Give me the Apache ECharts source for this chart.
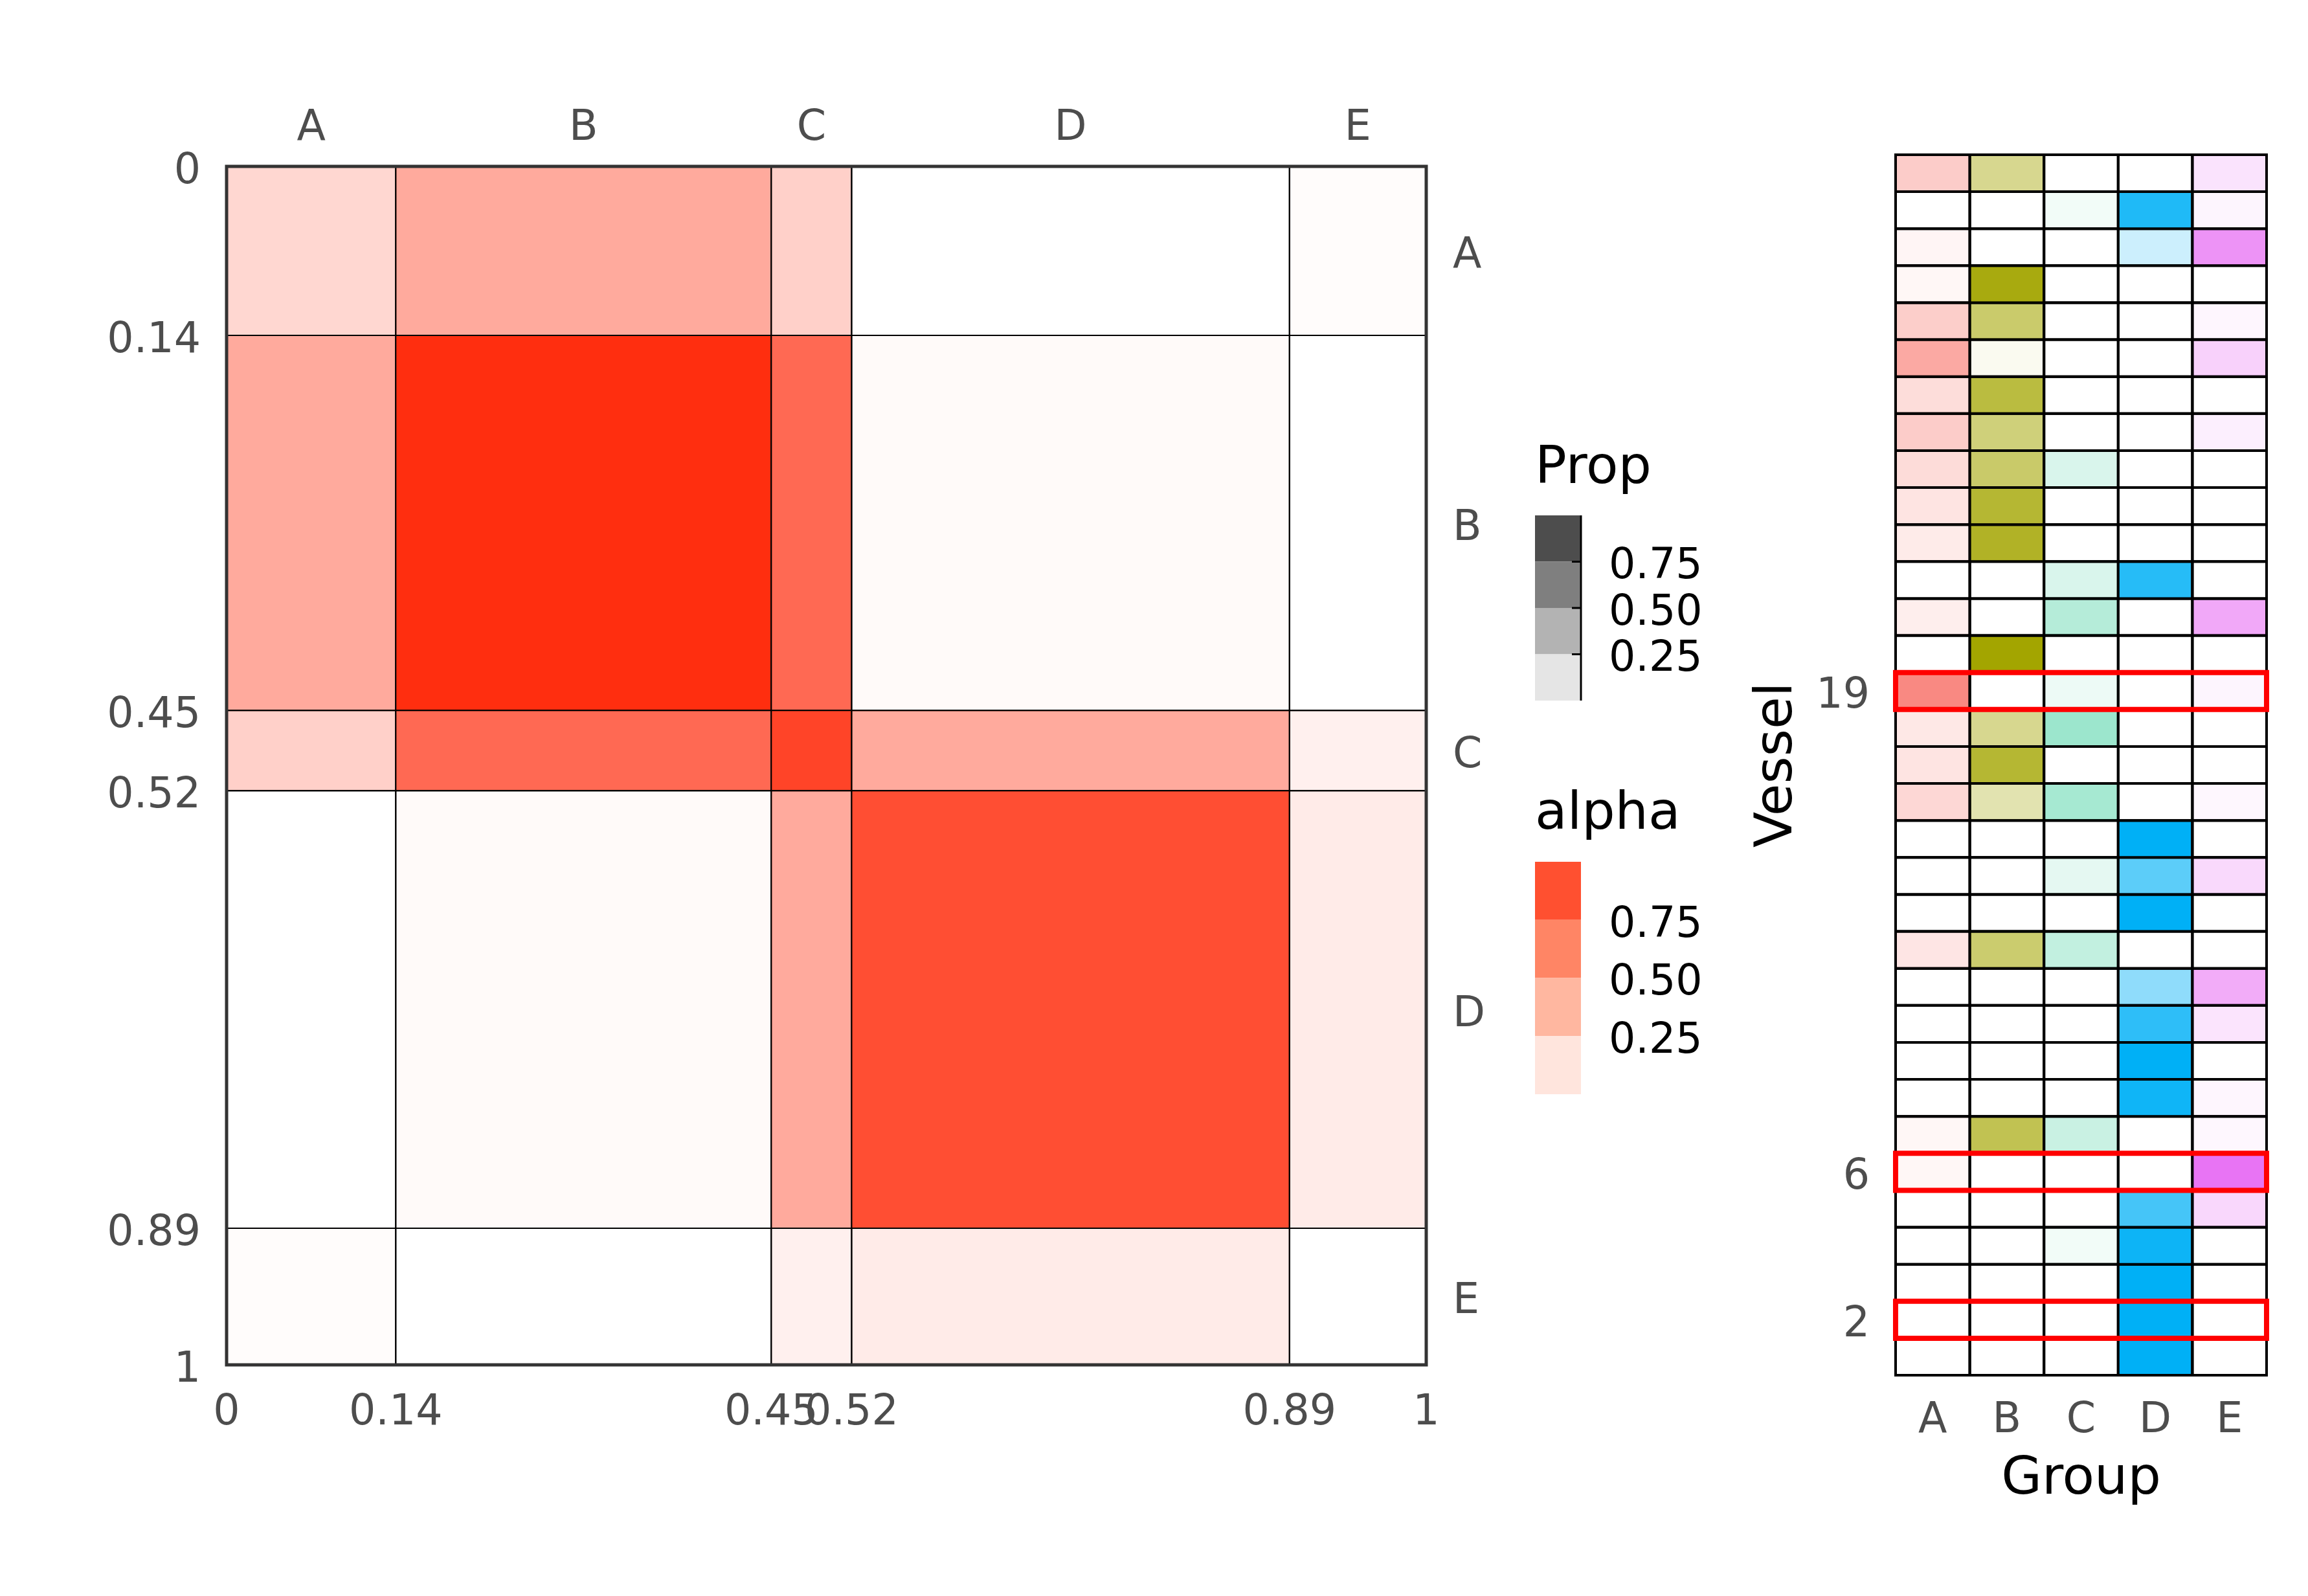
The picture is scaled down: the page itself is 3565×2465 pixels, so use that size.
<!DOCTYPE html>
<html><head><meta charset="utf-8">
<script src="https://cdn.jsdelivr.net/npm/echarts@6/dist/echarts.min.js"></script>
<style>html,body{margin:0;padding:0;background:#fff}#c{width:3565px;height:2465px}</style>
</head><body><div id="c"></div>
<script>
// ---------- data ----------
const groups = ['A', 'B', 'C', 'D', 'E'];
const groupProps = [0.141, 0.313, 0.067, 0.365, 0.114];
// block connection "alpha" (row group x column group)
const alphaA = [0.19, 0.40, 0.22, 0.00, 0.015];
const alphaB = [0.40, 0.98, 0.70, 0.025, 0.00];
const alphaC = [0.22, 0.70, 0.88, 0.40, 0.07];
const alphaD = [0.00, 0.025, 0.40, 0.83, 0.094];
const alphaE = [0.015, 0.00, 0.07, 0.094, 0.00];
const blockAlpha = [alphaA, alphaB, alphaC, alphaD, alphaE];

// vessel membership proportions, vessel 1 .. 33
const vessels = Array.from({length: 33}, (_, i) => String(i + 1));
const propA = [0,0,0,0,0,0.06,0.06,0,0,0,0,0.19,0,0,0,0.29,0.20,0.17,0.86,0,0.12,0,0.15,0.20,0.26,0.37,0.25,0.63,0.36,0.06,0.07,0,0.37];
const propB = [0,0,0,0,0,0,0.68,0,0,0,0,0.57,0,0,0,0.31,0.80,0.44,0,1,0,0,0.85,0.80,0.59,0.52,0.75,0.06,0.58,0.94,0,0,0.44];
const propC = [0,0,0,0.05,0,0,0.21,0,0,0,0,0.24,0,0.10,0,0.35,0,0.39,0.07,0,0.29,0.15,0,0,0.15,0,0,0,0,0,0,0.05,0];
const propD = [1,1,1,0.95,0.73,0,0,0.94,1,0.82,0.44,0,1,0.64,1,0,0,0,0,0,0,0.85,0,0,0,0,0,0,0,0,0.20,0.88,0];
const propE = [0,0,0,0,0.27,0.94,0.05,0.06,0,0.18,0.56,0,0,0.26,0,0.05,0,0,0.07,0,0.59,0,0,0,0,0.11,0,0.31,0.06,0,0.73,0.07,0.19];
const vesselProps = [propA, propB, propC, propD, propE];
const highlightVessels = ['2', '6', '19'];

const legendLevels = ['0.75', '0.50', '0.25'];

// ---------- styles ----------
const FONT = 'DejaVu Sans';
const groupColors = [[248,118,109],[163,165,0],[0,191,125],[0,176,246],[231,107,243]];
const blockRGB = [255, 42, 10];
const propLegendColors = ['#4D4D4D', '#7F7F7F', '#B3B3B3', '#E5E5E5'];
const alphaLegendColors = ['#FF5030', '#FF8565', '#FFB7A0', '#FFE5DD'];
const DY = 9; // text baseline nudge

// ---------- derived ----------
const r2 = v => Math.round(v * 100) / 100;
const r3 = v => Math.round(v * 1000) / 1000;
const breaks = [0];
groupProps.forEach(p => breaks.push(r3(breaks[breaks.length - 1] + p)));
const mids = groups.map((g, i) => (breaks[i] + breaks[i + 1]) / 2);
const letterAt = v => { const i = mids.findIndex(m => Math.abs(m - v) < 1e-6); return i >= 0 ? groups[i] : ''; };

const blockData = [];
for (let i = 0; i < 5; i++) for (let j = 0; j < 5; j++)
  blockData.push([breaks[j], breaks[j + 1], breaks[i], breaks[i + 1], blockAlpha[i][j]]);

const cellData = [];
for (let j = 0; j < 5; j++) for (let v = 0; v < vessels.length; v++)
  cellData.push([j, v, vesselProps[j][v]]);
const boxData = highlightVessels.map(v => [0, vessels.indexOf(v)]);

const tickLabel = {fontFamily: FONT, fontSize: 65, color: '#4D4D4D'};
const midRich = {rich: {p: {fontFamily: FONT, fontSize: 65, color: '#4D4D4D', padding: [2 * DY, 0, 0, 0]}}};
const wrapP = s => s === '' ? '' : `{p|${s}}`;

const chart = echarts.init(document.getElementById('c'), null, {renderer: 'canvas', devicePixelRatio: 1});

// legend graphics
const gfx = [];
const LX = 2371, BW = 71, TDY = 4;
gfx.push({type: 'text', left: LX, top: 680 + TDY, style: {text: 'Prop', font: `81px "${FONT}"`, fill: '#000'}});
const pTop = 796, pH = 71.5;
propLegendColors.forEach((c, i) => gfx.push({type: 'rect', shape: {x: LX, y: pTop + i * pH, width: BW, height: pH}, style: {fill: c}}));
gfx.push({type: 'line', shape: {x1: LX + BW, y1: pTop, x2: LX + BW, y2: pTop + 4 * pH}, style: {stroke: '#000', lineWidth: 3}});
legendLevels.forEach((t, i) => {
  const y = pTop + (i + 1) * pH;
  gfx.push({type: 'line', shape: {x1: LX + BW - 14, y1: y, x2: LX + BW, y2: y}, style: {stroke: '#000', lineWidth: 3}});
  gfx.push({type: 'text', x: 2485, y: y + DY, style: {text: t, font: `65px "${FONT}"`, fill: '#000', verticalAlign: 'middle'}});
});
gfx.push({type: 'text', left: LX, top: 1214 + TDY, style: {text: 'alpha', font: `81px "${FONT}"`, fill: '#000'}});
const aTop = 1331, aH = 89.75;
alphaLegendColors.forEach((c, i) => gfx.push({type: 'rect', shape: {x: LX, y: aTop + i * aH, width: BW, height: aH}, style: {fill: c}}));
legendLevels.forEach((t, i) => {
  const y = aTop + (i + 1) * aH;
  gfx.push({type: 'text', x: 2485, y: y + DY, style: {text: t, font: `65px "${FONT}"`, fill: '#000', verticalAlign: 'middle'}});
});

const option = {
  backgroundColor: '#fff',
  animation: false,
  textStyle: {fontFamily: FONT},
  grid: [
    {left: 350, top: 257, width: 1853, height: 1851, show: false},
    {left: 2928, top: 239, width: 573, height: 1885, show: false}
  ],
  xAxis: [
    {type: 'value', gridIndex: 0, min: 0, max: 1, position: 'bottom',
     axisLine: {show: false}, axisTick: {show: false}, splitLine: {show: false},
     axisLabel: Object.assign({customValues: breaks, margin: 36 + DY - 2, formatter: v => String(r2(v)), hideOverlap: false}, tickLabel)},
    {type: 'value', gridIndex: 0, min: 0, max: 1, position: 'top',
     axisLine: {show: false}, axisTick: {show: false}, splitLine: {show: false},
     axisLabel: Object.assign({customValues: mids, margin: 34 - DY, formatter: letterAt}, tickLabel)},
    {type: 'category', gridIndex: 1, data: groups, position: 'bottom',
     axisLine: {show: false}, axisTick: {show: false}, splitLine: {show: false},
     axisLabel: Object.assign({margin: 32 + DY - 2}, tickLabel),
     name: 'Group', nameLocation: 'middle', nameGap: 116 + DY - 4,
     nameTextStyle: {fontFamily: FONT, fontSize: 81, color: '#000'}}
  ],
  yAxis: [
    {type: 'value', gridIndex: 0, min: 0, max: 1, inverse: true, position: 'left',
     axisLine: {show: false}, axisTick: {show: false}, splitLine: {show: false},
     axisLabel: Object.assign({customValues: breaks, margin: 40, formatter: v => wrapP(String(r2(v)))}, tickLabel, midRich)},
    {type: 'value', gridIndex: 0, min: 0, max: 1, inverse: true, position: 'right',
     axisLine: {show: false}, axisTick: {show: false}, splitLine: {show: false},
     axisLabel: Object.assign({customValues: mids, margin: 41, formatter: v => wrapP(letterAt(v))}, tickLabel, midRich)},
    {type: 'category', gridIndex: 1, data: vessels, position: 'left',
     axisLine: {show: false}, axisTick: {show: false}, splitLine: {show: false},
     axisLabel: Object.assign({margin: 40, interval: (idx, val) => highlightVessels.includes(val), formatter: v => wrapP(v)}, tickLabel, midRich),
     name: 'Vessel', nameLocation: 'middle', nameRotate: 90, nameGap: 142,
     nameTextStyle: {fontFamily: FONT, fontSize: 81, color: '#000'}}
  ],
  graphic: gfx,
  series: [
    {type: 'custom', xAxisIndex: 0, yAxisIndex: 0, data: blockData, encode: {x: [0, 1], y: [2, 3]}, z: 2,
     renderItem: (params, api) => {
       const p0 = api.coord([api.value(0), api.value(2)]);
       const p1 = api.coord([api.value(1), api.value(3)]);
       const a = api.value(4);
       return {type: 'rect',
         shape: {x: Math.min(p0[0], p1[0]), y: Math.min(p0[1], p1[1]), width: Math.abs(p1[0] - p0[0]), height: Math.abs(p1[1] - p0[1])},
         style: {fill: `rgba(${blockRGB.join(',')},${a})`, stroke: '#000', lineWidth: 2}};
     }},
    {type: 'custom', xAxisIndex: 0, yAxisIndex: 0, data: [[0, 1, 0, 1]], encode: {x: [0, 1], y: [2, 3]}, z: 3,
     renderItem: (params, api) => {
       const p0 = api.coord([api.value(0), api.value(2)]);
       const p1 = api.coord([api.value(1), api.value(3)]);
       return {type: 'rect', shape: {x: p0[0], y: p0[1], width: p1[0] - p0[0], height: p1[1] - p0[1]},
         style: {fill: 'none', stroke: '#333', lineWidth: 5}};
     }},
    {type: 'custom', xAxisIndex: 2, yAxisIndex: 2, data: cellData, encode: {x: 0, y: 1}, z: 2,
     renderItem: (params, api) => {
       const c = api.coord([api.value(0), api.value(1)]);
       const s = api.size([1, 1]);
       const col = groupColors[api.value(0)];
       return {type: 'rect', shape: {x: c[0] - s[0] / 2, y: c[1] - s[1] / 2, width: s[0], height: s[1]},
         style: {fill: `rgba(${col.join(',')},${api.value(2)})`, stroke: '#000', lineWidth: 4}};
     }},
    {type: 'custom', xAxisIndex: 2, yAxisIndex: 2, data: boxData, encode: {x: 0, y: 1}, z: 4,
     renderItem: (params, api) => {
       const v = api.value(1);
       const c0 = api.coord([0, v]);
       const c4 = api.coord([groups.length - 1, v]);
       const s = api.size([1, 1]);
       return {type: 'rect', shape: {x: c0[0] - s[0] / 2, y: c0[1] - s[1] / 2, width: c4[0] - c0[0] + s[0], height: s[1]},
         style: {fill: 'none', stroke: '#FF0000', lineWidth: 8}};
     }}
  ]
};
chart.setOption(option);
</script></body></html>
